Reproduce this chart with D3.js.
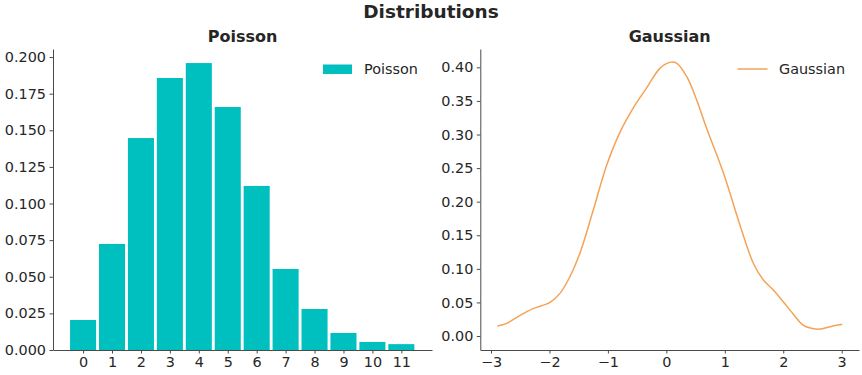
<!DOCTYPE html>
<html>
<head>
<meta charset="utf-8">
<script src="https://cdn.jsdelivr.net/npm/d3@7"></script>
<style>
	body { margin: 0; background: #fff; }
	text { font-family: "DejaVu Sans", sans-serif; fill: #262626; }
	.axis path, .axis line { stroke: #4a4a4a; stroke-width: 1; }
	.axis text { font-size: 14.4px; font-family: "DejaVu Sans", sans-serif; fill: #262626; }
</style>
</head>
<body>
<div id="chart-area"></div>
<script>

// SVG Size
var width = 862,
	height = 375;

// Poisson bars
var poissonK = [0, 1, 2, 3, 4, 5, 6, 7, 8, 9, 10, 11];
var poissonP = [0.0205, 0.0724, 0.1447, 0.1857, 0.1959, 0.1659, 0.1120, 0.0553, 0.0280, 0.0116, 0.0055, 0.0040];
var poissonXTicks = [0, 1, 2, 3, 4, 5, 6, 7, 8, 9, 10, 11];
var poissonYTicks = [0, 0.025, 0.05, 0.075, 0.1, 0.125, 0.15, 0.175, 0.2];

// Gaussian density curve
var gaussX = [-2.89, -2.73, -2.50, -2.28, -1.99, -1.82, -1.65, -1.48, -1.25, -1.02, -0.79, -0.57, -0.34, -0.11, 0.06, 0.18, 0.35, 0.52, 0.69, 0.98, 1.26, 1.49, 1.66, 1.83, 2.00, 2.17, 2.34, 2.52, 2.63, 2.80, 3.01];
var gaussY = [0.0149, 0.0189, 0.0308, 0.0407, 0.0501, 0.0635, 0.0883, 0.1230, 0.1876, 0.2546, 0.3040, 0.3390, 0.3690, 0.3985, 0.4074, 0.4060, 0.3860, 0.3510, 0.3090, 0.2420, 0.1650, 0.1080, 0.0834, 0.0685, 0.0511, 0.0328, 0.0164, 0.0109, 0.0104, 0.0139, 0.0174];
var gaussXTicks = [-3, -2, -1, 0, 1, 2, 3];
var gaussYTicks = [0, 0.05, 0.1, 0.15, 0.2, 0.25, 0.3, 0.35, 0.4];

var barColor = "#00bfbf",
	lineColor = "#f5a257";

var svg = d3.select('#chart-area')
	.append("svg")
	.attr("width", width)
	.attr("height", height);

// main title
svg.append("text")
	.attr("x", width / 2)
	.attr("y", 17.5)
	.attr("text-anchor", "middle")
	.style("font-size", "18.5px")
	.style("font-weight", "bold")
	.text("Distributions");

// ---------- Poisson ----------
var plotTop = 49, plotBottom = 350;

var xLeft = d3.scaleLinear()
	.domain([-1.04, 12.06])
	.range([53, 432]);

var yLeft = d3.scaleLinear()
	.domain([0, 0.2055])
	.range([plotBottom, plotTop]);

svg.selectAll("rect.bar")
	.data(poissonK)
	.enter()
	.append("rect")
	.attr("class", "bar")
	.attr("x", function(d){ return xLeft(d - 0.45); })
	.attr("width", function(d){ return xLeft(d + 0.45) - xLeft(d - 0.45); })
	.attr("y", function(d, i){ return yLeft(poissonP[i]); })
	.attr("height", function(d, i){ return yLeft(0) - yLeft(poissonP[i]); })
	.attr("fill", barColor);

svg.append("g")
	.attr("class", "axis")
	.attr("transform", "translate(0," + plotBottom + ")")
	.call(d3.axisBottom(xLeft).tickValues(poissonXTicks).tickSize(3.5).tickPadding(3.5).tickSizeOuter(0));

svg.append("g")
	.attr("class", "axis")
	.attr("transform", "translate(53,0)")
	.call(d3.axisLeft(yLeft).tickValues(poissonYTicks).tickFormat(d3.format(".3f")).tickSize(3.5).tickPadding(3.5).tickSizeOuter(0));

svg.append("text")
	.attr("x", (53 + 432) / 2)
	.attr("y", 42)
	.attr("text-anchor", "middle")
	.style("font-size", "16px")
	.style("font-weight", "bold")
	.text("Poisson");

// legend
svg.append("rect")
	.attr("x", 323)
	.attr("y", 64.5)
	.attr("width", 29)
	.attr("height", 9.5)
	.attr("fill", barColor);
svg.append("text")
	.attr("x", 364)
	.attr("y", 74)
	.style("font-size", "14.4px")
	.text("Poisson");

// ---------- Gaussian ----------
var xRight = d3.scaleLinear()
	.domain([-3.183, 3.296])
	.range([480.3, 859]);

var yRight = d3.scaleLinear()
	.domain([-0.0208, 0.4273])
	.range([plotBottom, plotTop]);

var line = d3.line()
	.x(function(d){ return xRight(d); })
	.y(function(d, i){ return yRight(gaussY[i]); })
	.curve(d3.curveCatmullRom.alpha(0.5));

svg.append("path")
	.datum(gaussX)
	.attr("d", line)
	.attr("fill", "none")
	.attr("stroke", lineColor)
	.attr("stroke-width", 1.5);

svg.append("g")
	.attr("class", "axis")
	.attr("transform", "translate(0," + plotBottom + ")")
	.call(d3.axisBottom(xRight).tickValues(gaussXTicks).tickFormat(d3.format("d")).tickSize(3.5).tickPadding(3.5).tickSizeOuter(0));

svg.append("g")
	.attr("class", "axis")
	.attr("transform", "translate(480.3,0)")
	.call(d3.axisLeft(yRight).tickValues(gaussYTicks).tickFormat(d3.format(".2f")).tickSize(3.5).tickPadding(3.5).tickSizeOuter(0));

svg.append("text")
	.attr("x", (480.3 + 859) / 2)
	.attr("y", 42)
	.attr("text-anchor", "middle")
	.style("font-size", "16px")
	.style("font-weight", "bold")
	.text("Gaussian");

// legend
svg.append("line")
	.attr("x1", 737.5)
	.attr("x2", 767.5)
	.attr("y1", 69)
	.attr("y2", 69)
	.attr("stroke", lineColor)
	.attr("stroke-width", 1.5);
svg.append("text")
	.attr("x", 779)
	.attr("y", 74)
	.style("font-size", "14.4px")
	.text("Gaussian");

</script>
</body>
</html>
